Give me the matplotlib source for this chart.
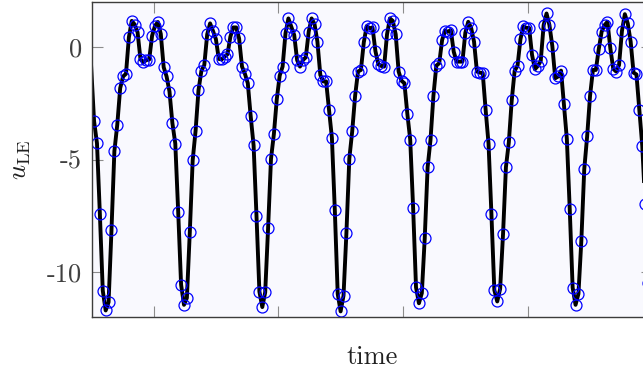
import numpy as np
import matplotlib
matplotlib.use("Agg")
import matplotlib.pyplot as plt

u_le = [
    -0.9,
    -3.30, -4.28, -7.43, -10.83, -11.71, -11.34, -8.14, -4.63, -3.45, -1.83,
    -1.31, -1.19, 0.43, 1.16, 1.00, 0.65, -0.55, -0.68, -0.58, -0.56,
    0.50, 0.94, 1.11, 0.58, -0.90, -1.31, -1.98, -3.38, -4.29, -7.32,
    -10.56, -11.46, -11.15, -8.24, -5.03, -3.72, -1.92, -1.06, -0.80, 0.56,
    1.05, 0.71, 0.35, -0.53, -0.55, -0.43, -0.32, 0.46, 0.87, 0.87,
    0.38, -0.87, -1.19, -1.61, -3.08, -4.37, -7.51, -10.87, -11.56, -10.90,
    -8.04, -4.97, -3.86, -2.31, -1.27, -0.87, 0.61, 1.27, 0.90, 0.53,
    -0.58, -0.87, -0.58, -0.46, 0.68, 1.27, 1.02, 0.24, -1.24, -1.53,
    -1.53, -2.79, -4.04, -7.24, -10.97, -11.75, -11.05, -8.27, -4.96, -3.75,
    -2.17, -1.09, -1.02, 0.21, 0.93, 0.83, 0.87, -0.18, -0.77, -0.84,
    -0.87, 0.56, 1.27, 1.16, 0.56, -1.09, -1.50, -1.61, -2.96, -4.12,
    -7.14, -10.68, -11.39, -10.94, -8.51, -5.34, -4.12, -2.17, -0.83, -0.72,
    0.31, 0.72, 0.68, 0.75, -0.21, -0.65, -0.65, -0.65, 0.63, 1.12,
    0.85, 0.24, -1.09, -1.14, -1.16, -2.79, -4.29, -7.43, -10.80, -11.31,
    -10.75, -8.32, -5.34, -4.23, -2.37, -1.06, -0.83, 0.34, 0.93, 0.85,
    0.85, -0.35, -0.99, -0.84, -0.62, 0.97, 1.49, 0.97, 0.04, -1.39,
    -1.31, -1.05, -2.54, -4.08, -7.21, -10.69, -11.46, -10.97, -8.61, -5.44,
    -3.97, -2.17, -1.02, -1.02, -0.10, 0.68, 0.97, 1.12, -0.06, -0.97,
    -1.09, -0.80, 0.71, 1.46, 1.05, 0.24, -1.14, -1.22, -2.79, -4.38,
    -6.99, -10.5,
]
t_start = 0.5
steps_per_unit = 43

yticks = [-10, -5, 0]
ytick_labels = ['-10', '-5', '0']
xticks = [1, 2, 3, 4, 5]

plt.rcParams['font.family'] = 'serif'
plt.rcParams['font.serif'] = ['cmr10']
plt.rcParams['mathtext.fontset'] = 'cm'
plt.rcParams['axes.unicode_minus'] = False

time = t_start + np.arange(len(u_le)) / steps_per_unit

fig = plt.figure(figsize=(6.43, 3.71), dpi=100)
ax = fig.add_axes([91.8 / 643, 54 / 371, (652.4 - 91.8) / 643, 315 / 371])
ax.set_facecolor('#f9f9fe')

ax.plot(time, u_le, color='black', lw=2.8, marker='o', ms=7.9,
        mfc='none', mec='#0000ff', mew=0.9, markevery=slice(1, None))

ax.set_xlim(0.505, 5.0)
ax.set_ylim(-12, 2)
ax.set_xticks(xticks)
ax.set_xticklabels([])
ax.set_yticks(yticks)
ax.set_yticklabels(ytick_labels)

ax.tick_params(direction='in', length=7.9, width=0.8, color='#8c8c8c',
               labelsize=19, labelcolor='#404040', pad=7,
               top=True, right=True)
for s in ax.spines.values():
    s.set_color('#3c3c3c')
    s.set_linewidth(1.0)

ax.set_xlabel('time', fontsize=19, labelpad=13, color='#202020')
ax.set_ylabel(r'$u_{\rm LE}$', fontsize=19, labelpad=10, color='#202020')

fig.savefig('out.png', dpi=100)
